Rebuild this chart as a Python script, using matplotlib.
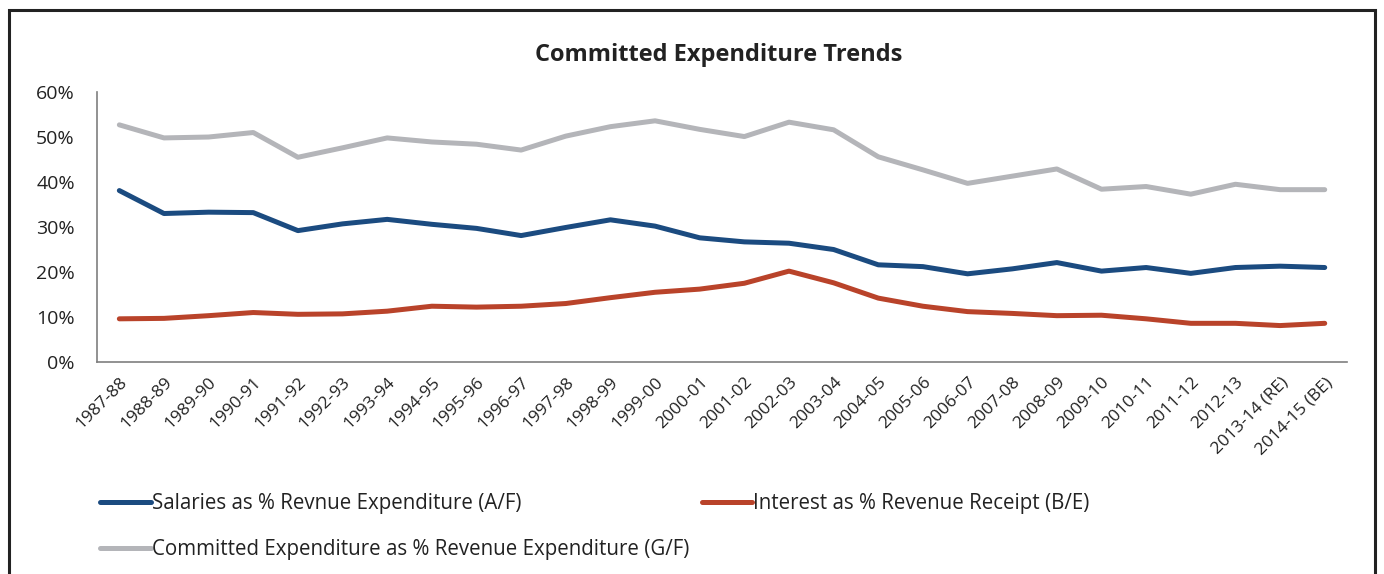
import matplotlib.pyplot as plt
from matplotlib.patches import Rectangle
from matplotlib.ticker import PercentFormatter

years = ['1987-88', '1988-89', '1989-90', '1990-91', '1991-92', '1992-93', '1993-94',
         '1994-95', '1995-96', '1996-97', '1997-98', '1998-99', '1999-00', '2000-01',
         '2001-02', '2002-03', '2003-04', '2004-05', '2005-06', '2006-07', '2007-08',
         '2008-09', '2009-10', '2010-11', '2011-12', '2012-13', '2013-14 (RE)', '2014-15 (BE)']

salaries = [38.1, 33.0, 33.3, 33.2, 29.2, 30.7, 31.7, 30.6, 29.7, 28.1, 29.9, 31.6, 30.2, 27.6,
            26.7, 26.4, 25.0, 21.6, 21.2, 19.6, 20.7, 22.1, 20.2, 21.0, 19.7, 21.0, 21.3, 21.0]
interest = [9.6, 9.7, 10.3, 11.0, 10.6, 10.7, 11.3, 12.4, 12.2, 12.4, 13.0, 14.3, 15.5, 16.2,
            17.5, 20.2, 17.6, 14.2, 12.4, 11.2, 10.8, 10.3, 10.4, 9.6, 8.6, 8.6, 8.1, 8.6]
committed = [52.7, 49.8, 50.0, 51.0, 45.5, 47.6, 49.8, 48.9, 48.4, 47.1, 50.2, 52.3, 53.6, 51.7,
             50.1, 53.3, 51.6, 45.6, 42.7, 39.7, 41.3, 42.9, 38.4, 39.0, 37.3, 39.5, 38.3, 38.3]

names = ['Salaries as % Revnue Expenditure (A/F)',
         'Interest as % Revenue Receipt (B/E)',
         'Committed Expenditure as % Revenue Expenditure (G/F)']

BLUE = '#1b4b80'
RED = '#b9432a'
GREY = '#b4b5b9'

plt.rcParams['font.family'] = ['Open Sans', 'DejaVu Sans']

fig = plt.figure(figsize=(13.84, 5.74), dpi=100)
ax = fig.add_axes([0.0701, 0.3693, 0.9032, 0.4704])

x = range(len(years))
l1, = ax.plot(x, salaries, color=BLUE, lw=3.6, solid_capstyle='round', label=names[0])
l2, = ax.plot(x, interest, color=RED, lw=3.6, solid_capstyle='round', label=names[1])
l3, = ax.plot(x, committed, color=GREY, lw=3.6, solid_capstyle='round', label=names[2])

ax.set_xlim(-0.5, len(years) - 0.5)
ax.set_ylim(0, 60)
ax.set_yticks(range(0, 61, 10))
ax.yaxis.set_major_formatter(PercentFormatter(decimals=0))
ax.set_xticks(list(x))
ax.set_xticklabels(years, rotation=45, ha='right', rotation_mode='anchor')

for s in ['top', 'right']:
    ax.spines[s].set_visible(False)
for s in ['left', 'bottom']:
    ax.spines[s].set_color('#7f7f7f')
    ax.spines[s].set_linewidth(1.2)
ax.tick_params(axis='y', length=0, pad=16, labelsize=14, colors='#222222')
ax.tick_params(axis='x', length=0, pad=9, labelsize=12.5, colors='#222222')

fig.text(0.519, 0.905, 'Committed Expenditure Trends', ha='center', va='center',
         fontsize=17, fontweight='bold', color='#222222')

leg = fig.legend([l1, l3, l2], [names[0], names[2], names[1]], ncol=2,
                 loc='upper left', bbox_to_anchor=(0.059, 0.173), frameon=False,
                 handlelength=2.47, handletextpad=0.05, columnspacing=0.6,
                 labelspacing=1.2, prop={'size': 14.8})
for t in leg.get_texts():
    t.set_color('#222222')

fig.patches.append(Rectangle((9 / 1384, -0.05), 1366 / 1384, 1.05 - 10 / 574,
                             transform=fig.transFigure, fill=False, lw=2.2,
                             edgecolor='#222222'))

fig.savefig('out.png', dpi=100)
